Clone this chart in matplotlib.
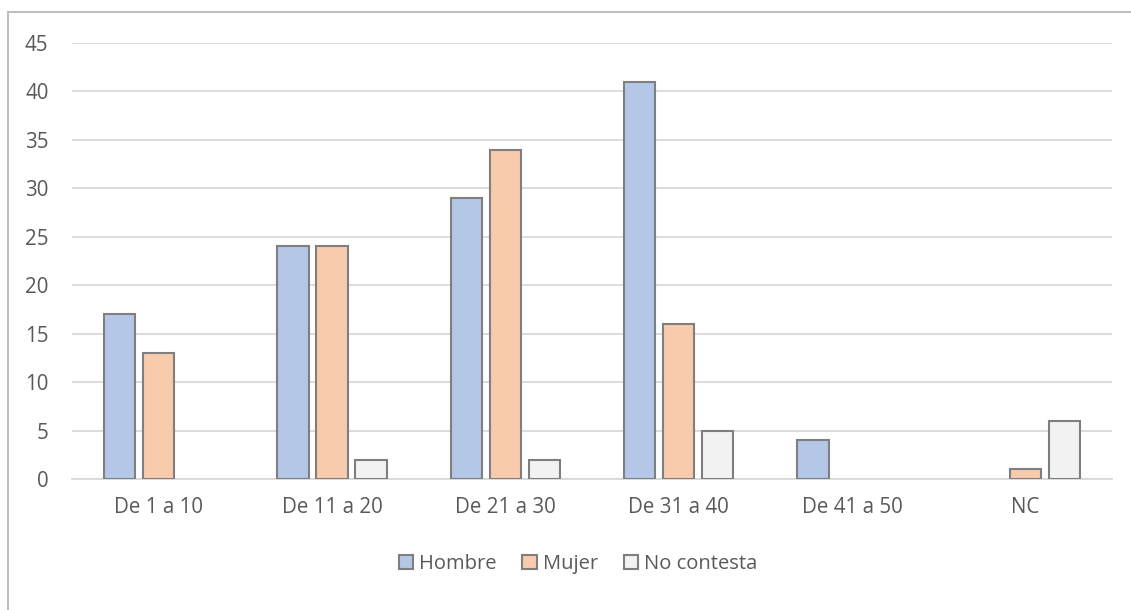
import matplotlib
matplotlib.use("Agg")
import matplotlib.pyplot as plt
import numpy as np
from matplotlib.patches import Rectangle

categories = ["De 1 a 10", "De 11 a 20", "De 21 a 30", "De 31 a 40", "De 41 a 50", "NC"]
hombre = [17, 24, 29, 41, 4, 0]
mujer = [13, 24, 34, 16, 0, 1]
no_contesta = [0, 2, 2, 5, 0, 6]
series_names = ["Hombre", "Mujer", "No contesta"]
colors = ["#B4C7E7", "#F8CBAD", "#F2F2F2"]
edge = "#7F7F7F"
text_color = "#595959"

plt.rcParams['font.family'] = ['Open Sans', 'DejaVu Sans']

fig = plt.figure(figsize=(11.31, 6.10), dpi=100)
ax = fig.add_axes([72/1131, 1-479/610, (1112-72)/1131, (479-43)/610])

x = np.arange(len(categories))
w = 0.18
off = 0.225
for i, (vals, name, c) in enumerate(zip([hombre, mujer, no_contesta], series_names, colors)):
    mask = [v > 0 for v in vals]
    xs = x[mask] + (i - 1) * off
    vs = [v for v in vals if v > 0]
    ax.bar(xs, vs, width=w, color=c, edgecolor=edge, linewidth=1.5, label=name, zorder=3)

ax.set_xlim(-0.5, len(categories) - 0.5)
ax.set_ylim(0, 45)
ax.set_yticks(range(0, 46, 5))
ax.set_xticks(x)
ax.set_xticklabels(categories)
ax.yaxis.grid(True, color="#D9D9D9", linewidth=1.3, zorder=0)
ax.set_axisbelow(True)
for s in ["top", "right", "left"]:
    ax.spines[s].set_visible(False)
ax.spines["bottom"].set_color("#D9D9D9")
ax.spines["bottom"].set_linewidth(1.3)
ax.tick_params(axis="both", length=0, colors=text_color, labelsize=14.8)
ax.tick_params(axis="y", pad=17)
ax.tick_params(axis="x", pad=13)

leg = fig.legend(loc="center", bbox_to_anchor=(578/1131, 1-564/610), ncol=3, frameon=False,
                 fontsize=14.5, handlelength=0.7, handleheight=0.7, handletextpad=0.3,
                 columnspacing=1.3)
for t in leg.get_texts():
    t.set_color(text_color)

fig.patches.append(Rectangle((8/1131, -0.1), 1.2, 1 - 12/610 + 0.1, transform=fig.transFigure,
                             fill=False, edgecolor="#BFBFBF", linewidth=1.5))

fig.savefig("out.png", dpi=100)
